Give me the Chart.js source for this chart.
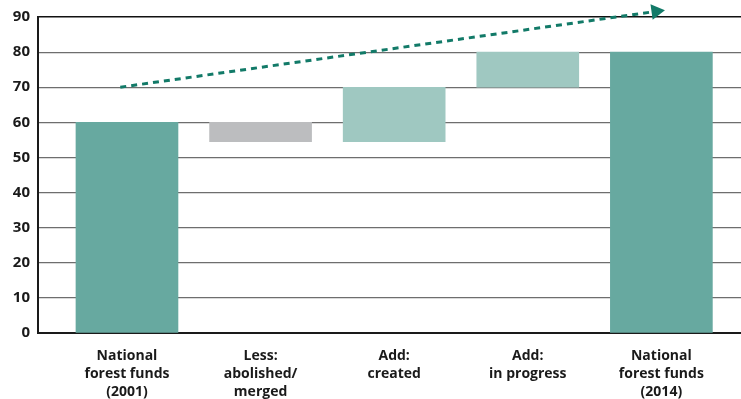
<!DOCTYPE html>
<html>
<head>
<meta charset="utf-8">
<script src="https://cdn.jsdelivr.net/npm/chart.js@4.4.0/dist/chart.umd.min.js"></script>
<style>
  body { margin: 0; background: #fff; }
  #wrap { width: 741px; height: 399px; }
</style>
</head>
<body>
<div id="wrap"><canvas id="myChart" width="741" height="399"></canvas></div>
<script>
// datos del grafico (cascada)
const categorias = [
   ['National', 'forest funds', '(2001)'],
   ['Less:', 'abolished/', 'merged'],
   ['Add:', 'created'],
   ['Add:', 'in progress'],
   ['National', 'forest funds', '(2014)']
];
const bajos = [0, 54.5, 54.5, 70, 0];
const altos = [60, 60, 70, 80, 80];
const colores = ['#67a9a0', '#bcbdbf', '#9fc8c1', '#9fc8c1', '#67a9a0'];

// linea de tendencia (flecha)
const tendenciaX = [-0.05, 3.96];
const tendenciaY = [70, 91.6];

const yTicks = [0, 10, 20, 30, 40, 50, 60, 70, 80, 90];

const barras = categorias.map(function (c, i) {
   return { x: i, y: [bajos[i], altos[i]] };
});
const tendencia = tendenciaX.map(function (x, i) {
   return { x: x, y: tendenciaY[i] };
});

const fuente = "'Open Sans', 'DejaVu Sans', sans-serif";

const config = {
   type: 'bar',
   data: {
      datasets: [{
         type: 'line',
         data: tendencia,
         clip: false,
         borderColor: '#127a68',
         borderWidth: 3,
         borderDash: [6, 5],
         pointRadius: [0, 9],
         pointStyle: 'triangle',
         pointRotation: 82,
         pointBackgroundColor: '#127a68',
         pointBorderWidth: 0,
         order: 0
      }, {
         data: barras,
         backgroundColor: colores,
         borderWidth: 0,
         barThickness: 102,
         order: 1
      }]
   },
   options: {
      responsive: false,
      animation: false,
      layout: { autoPadding: false, padding: { top: 17, right: 0, left: 0, bottom: 0 } },
      plugins: { legend: { display: false }, tooltip: { enabled: false } },
      scales: {
         x: {
            type: 'linear',
            offset: false,
            min: -0.666,
            max: 4.596,
            afterBuildTicks: function (axis) {
               axis.ticks = categorias.map(function (c, i) { return { value: i }; });
            },
            afterFit: function (axis) {
               axis.height = 66;
               axis.paddingLeft = 0;
               axis.paddingRight = 0;
            },
            grid: { display: false },
            border: { display: true, color: '#1a1a1a', width: 2 },
            ticks: {
               autoSkip: false,
               maxRotation: 0,
               padding: 6,
               color: '#1a1a1a',
               font: { family: fuente, size: 14, weight: 'bold', lineHeight: 1.3 },
               callback: function (v) { return categorias[v]; }
            }
         },
         y: {
            min: 0,
            max: 90,
            afterBuildTicks: function (axis) {
               axis.ticks = yTicks.map(function (v) { return { value: v }; });
            },
            afterFit: function (axis) { axis.width = 38; },
            grid: {
               drawTicks: false,
               color: function (ctx) { return ctx.tick && ctx.tick.value === 90 ? '#111' : '#6e6e6e'; },
               lineWidth: function (ctx) { return ctx.tick && ctx.tick.value === 90 ? 1.5 : 1.2; }
            },
            border: { display: true, color: '#1a1a1a', width: 2 },
            ticks: {
               padding: 8,
               color: '#1a1a1a',
               font: { family: fuente, size: 15, weight: 'bold' }
            }
         }
      }
   }
};

const myChart = new Chart(document.getElementById('myChart'), config);
</script>
</body>
</html>
